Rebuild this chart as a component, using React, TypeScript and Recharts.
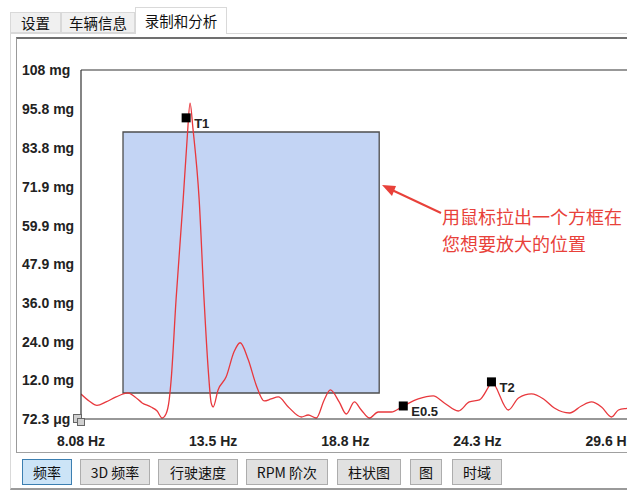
import React from "react";
import {
  ComposedChart,
  Line,
  Scatter,
  XAxis,
  YAxis,
  ReferenceArea,
  ReferenceLine,
} from "recharts";

// spectrum trace (Hz -> mg)
const freqHz = [
  8.08, 8.41, 8.73, 9.1, 9.51, 9.99, 10.28, 10.57, 10.93, 11.18, 11.38, 11.54,
  11.67, 11.75, 11.95, 12.24, 12.4, 12.52, 12.64, 12.89, 13.09, 13.26, 13.38,
  13.46, 13.66, 13.99, 14.31, 14.56, 14.89, 15.21, 15.54, 15.82, 16.11, 16.52,
  17.05, 17.33, 17.66, 17.98, 18.23, 18.59, 18.88, 19.21, 19.49, 19.82, 20.18,
  20.71, 21.2, 21.81, 22.42, 22.87, 23.44, 23.89, 24.3, 24.67, 24.79, 25.48,
  25.89, 26.42, 26.91, 27.35, 27.97, 28.45, 28.86, 29.27, 29.68, 29.96, 30.37,
  30.9,
];
const amplitudeMg = [
  7.8, 5.65, 4.26, 5.35, 6.9, 8.14, 6.9, 5.04, 3.79, 2.55, 0.38, 1.62, 5.97,
  12.17, 36.98, 68.0, 86.6, 97.78, 89.7, 68.0, 36.98, 15.27, 5.04, 3.79, 9.07,
  13.1, 20.85, 23.65, 18.37, 10.62, 5.65, 6.27, 6.9, 3.79, 0.69, 1.31, 0.38,
  5.97, 9.07, 5.35, 1.62, 5.35, 2.86, 0.38, 2.24, 2.24, 4.1, 6.27, 7.21, 5.04,
  2.55, 5.35, 5.97, 10.0, 11.55, 2.86, 6.58, 7.83, 6.27, 3.48, 1.93, 4.1, 5.35,
  3.79, 0.69, 2.86, 3.48, 4.7,
];

// cursors
const markerNames = ["T1", "E0.5", "T2"];
const markerFreq = [12.36, 21.2, 24.79];
const markerAmp = [93.2, 4.1, 11.55];

// zoom selection box
const zoomBoxHz = [9.79, 20.22];
const zoomBoxMg = [8.11, 88.82];

const xTicks = [8.08, 13.46, 18.84, 24.22, 29.6];
const xTickLabels = ["8.08 Hz", "13.5 Hz", "18.8 Hz", "24.3 Hz", "29.6 Hz"];
const yTicks = [0.0723, 12.0, 24.0, 36.0, 47.9, 59.9, 71.9, 83.8, 95.8, 108];
const yTickLabels = [
  "72.3 μg",
  "12.0 mg",
  "24.0 mg",
  "36.0 mg",
  "47.9 mg",
  "59.9 mg",
  "71.9 mg",
  "83.8 mg",
  "95.8 mg",
  "108 mg",
];

const tabs = ["设置", "车辆信息", "录制和分析"];
const buttons = ["频率", "3D 频率", "行驶速度", "RPM 阶次", "柱状图", "图", "时域"];

const data = freqHz.map((f, i) => ({ f, v: amplitudeMg[i] }));
const markers = markerNames.map((name, i) => ({
  name,
  f: markerFreq[i],
  v: markerAmp[i],
}));

const axisFont = '"Liberation Sans", Arial, sans-serif';
const cjkFont = '"Noto Sans CJK SC", "Liberation Sans", sans-serif';

const XTick = (props: any) => {
  const { x, y, payload } = props;
  return (
    <text
      x={x}
      y={y + 19}
      textAnchor="middle"
      fontFamily={axisFont}
      fontWeight="bold"
      fontSize={14}
      fill="#222"
    >
      {xTickLabels[payload.index]}
    </text>
  );
};

const YTick = (props: any) => {
  const { y, payload } = props;
  return (
    <text
      x={22}
      y={y + 5}
      textAnchor="start"
      fontFamily={axisFont}
      fontWeight="bold"
      fontSize={14}
      fill="#222"
    >
      {yTickLabels[payload.index]}
    </text>
  );
};

const MarkerShape = (props: any) => {
  const { cx, cy, payload } = props;
  return (
    <g>
      <rect x={cx - 4.5} y={cy - 4.5} width={9} height={9} fill="#000" />
      <text
        x={cx + 8}
        y={cy + 10}
        fontFamily={axisFont}
        fontWeight="bold"
        fontSize={13}
        fill="#222"
      >
        {payload.name}
      </text>
    </g>
  );
};

export default function App() {
  return (
    <div
      style={{
        position: "absolute",
        left: 0,
        top: 0,
        width: 627,
        height: 493,
        overflow: "hidden",
        background: "#fff",
        fontFamily: cjkFont,
      }}
    >
      {/* tab strip */}
      {tabs.map((t, i) => {
        const left = [10, 61, 135][i];
        const width = [51, 74, 92][i];
        const active = i === 2;
        return (
          <div
            key={t}
            style={{
              position: "absolute",
              left,
              top: active ? 7 : 12,
              width,
              height: active ? 27 : 21,
              boxSizing: "border-box",
              border: "1px solid #d9d9d9",
              borderBottom: active ? "none" : "1px solid #d9d9d9",
              background: active ? "#fff" : "#f0f0f0",
              fontSize: 14.5,
              lineHeight: active ? "25px" : "19px",
              textAlign: "center",
              color: "#111",
              zIndex: active ? 2 : 1,
            }}
          >
            {t}
          </div>
        );
      })}
      {/* panel */}
      <div
        style={{
          position: "absolute",
          left: 10,
          top: 33,
          width: 660,
          height: 457,
          boxSizing: "border-box",
          border: "1px solid #d9d9d9",
          borderBottom: "2px solid #9a9a9a",
        }}
      />
      {/* chart frame */}
      <div
        style={{
          position: "absolute",
          left: 16,
          top: 37,
          width: 660,
          height: 416,
          boxSizing: "border-box",
          borderTop: "2px solid #707070",
          borderLeft: "1px solid #9a9a9a",
          borderBottom: "1px solid #a0a0a0",
        }}
      />
      {/* bottom buttons */}
      {buttons.map((b, i) => {
        const left = [22, 80, 158, 246, 337, 410, 452][i];
        const width = [50, 70, 80, 82, 64, 32, 50][i];
        const active = i === 0;
        return (
          <div
            key={b}
            style={{
              position: "absolute",
              left,
              top: 459,
              width,
              height: 26,
              boxSizing: "border-box",
              border: active ? "1px solid #3c7fb1" : "1px solid #adadad",
              background: active ? "#cce4f7" : "#e1e1e1",
              fontSize: 14,
              lineHeight: "24px",
              textAlign: "center",
              color: "#111",
              whiteSpace: "nowrap",
            }}
          >
            {b}
          </div>
        );
      })}

      <div style={{ position: "absolute", left: 0, top: 0 }}>
        <ComposedChart
          width={662}
          height={470}
          data={data}
          margin={{ top: 70, right: 18, bottom: 0, left: 0 }}
        >
          <XAxis
            dataKey="f"
            type="number"
            domain={[8.08, 31]}
            ticks={xTicks}
            tick={<XTick />}
            tickLine={false}
            axisLine={{ stroke: "#333", strokeWidth: 1.2 }}
            height={51}
            allowDataOverflow
          />
          <YAxis
            type="number"
            domain={[0.0723, 108]}
            ticks={yTicks}
            tick={<YTick />}
            tickLine={false}
            axisLine={{ stroke: "#333", strokeWidth: 1.2 }}
            width={81}
            allowDataOverflow
          />
          <ReferenceLine y={108} stroke="#333" strokeWidth={1.2} />
          <ReferenceArea
            x1={zoomBoxHz[0]}
            x2={zoomBoxHz[1]}
            y1={zoomBoxMg[0]}
            y2={zoomBoxMg[1]}
            fill="#c3d4f4"
            fillOpacity={1}
            stroke="#4d4d4d"
            strokeWidth={1.3}
          />
          <Line
            type="monotone"
            dataKey="v"
            stroke="#e8383d"
            strokeWidth={1.3}
            dot={false}
            isAnimationActive={false}
          />
          <Scatter
            data={markers}
            dataKey="v"
            shape={<MarkerShape />}
            isAnimationActive={false}
          />
        </ComposedChart>
      </div>

      {/* origin cursor handles */}
      <div
        style={{
          position: "absolute",
          left: 73,
          top: 414,
          width: 7,
          height: 7,
          background: "#d0d0d0",
          border: "1px solid #666",
        }}
      />
      <div
        style={{
          position: "absolute",
          left: 77,
          top: 418,
          width: 6,
          height: 6,
          background: "#d0d0d0",
          border: "1px solid #666",
        }}
      />

      {/* annotation */}
      <svg
        width={627}
        height={493}
        style={{ position: "absolute", left: 0, top: 0, pointerEvents: "none" }}
      >
        <line x1={441} y1={213} x2={392} y2={190} stroke="#e8413a" strokeWidth={2} />
        <polygon points="382,185 392,196 396,186" fill="#e8413a" />
      </svg>
      <div
        style={{
          position: "absolute",
          left: 442,
          top: 203,
          fontSize: 18,
          lineHeight: "27px",
          color: "#e8413a",
          whiteSpace: "nowrap",
        }}
      >
        用鼠标拉出一个方框在
        <br />
        您想要放大的位置
      </div>
    </div>
  );
}
